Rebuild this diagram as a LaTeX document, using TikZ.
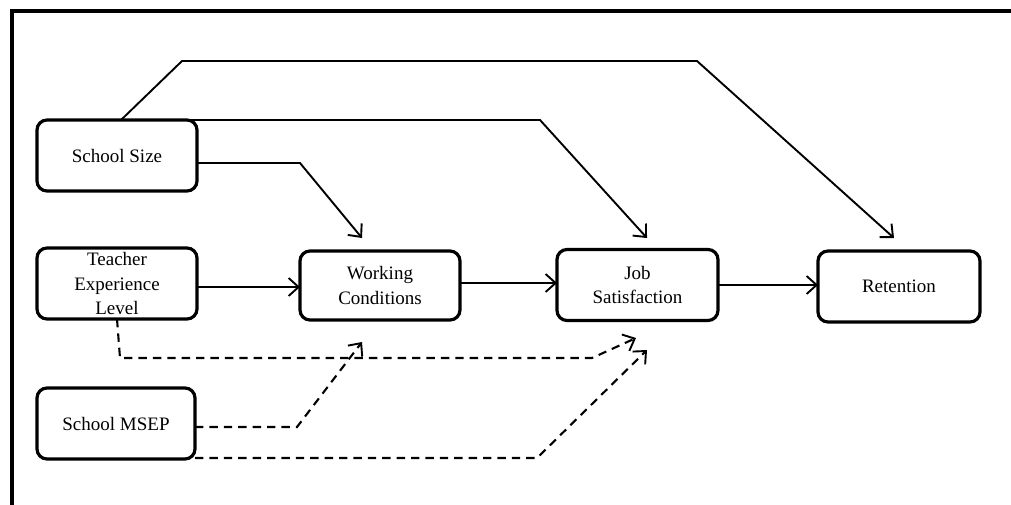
\documentclass[tikz,border=0pt]{standalone}
\usepackage{fontspec}
\setmainfont{Liberation Serif}
\usetikzlibrary{arrows.meta}
\begin{document}
\begin{tikzpicture}[x=0.5pt,y=-0.5pt,
  box/.style={draw, line width=1.6pt, rounded corners=5pt, align=center,
    inner sep=0pt, outer sep=0pt, minimum width=80pt, minimum height=35.5pt,
    font=\fontsize{9.5}{12.4}\selectfont},
  link/.style={line width=0.95pt, -{Straight Barb[length=5pt,width=9pt,line width=0.95pt]}},
  weak/.style={link, line width=1.05pt, dash pattern=on 4.2pt off 3pt}]
\useasboundingbox (0,0) rectangle (1011,504);
\clip (0,0) rectangle (1011,504);
\fill[white] (0,0) rectangle (1011,504);
% outer frame
\draw[line width=1.9pt] (12,11) rectangle (1040,540);

% variables
\node[box] (size)  at (117,155.5) {School Size};
\node[box] (teach) at (117,283.5) {Teacher\\Experience\\Level};
\node[box, minimum width=79pt] (msep) at (116,423.5) {School MSEP};
\node[box, minimum height=34.5pt] (work) at (380,285.5) {Working\\Conditions};
\node[box, minimum width=80.5pt] (job) at (637.5,285) {Job\\Satisfaction};
\node[box, minimum width=81pt] (ret) at (899,286.5) {Retention};

% bend points and arrow ends
\coordinate (s1) at (121,120);
\coordinate (b1) at (182,61);
\coordinate (b2) at (697,61);
\coordinate (e1) at (894,238);
\coordinate (s2) at (188,120);
\coordinate (b3) at (540,120);
\coordinate (e2) at (647,238);
\coordinate (b4) at (300,163);
\coordinate (e3) at (362,238);
\coordinate (t1) at (197,287);
\coordinate (t2) at (460,283);
\coordinate (t3) at (718,285);
\coordinate (d1) at (120,358);
\coordinate (d2) at (592,358);
\coordinate (f1) at (636,338);
\coordinate (d3) at (297,427);
\coordinate (f2) at (362,342);
\coordinate (s3) at (195,458);
\coordinate (d4) at (537,458);
\coordinate (f3) at (647,350);

% direct effects
\draw[link] (s1) -- (b1) -- (b2) -- (e1);
\draw[link] (s2) -- (b3) -- (e2);
\draw[link] (size.east |- b4) -- (b4) -- (e3);
\draw[link] (teach.east |- t1) -- (work.west |- t1);
\draw[link] (work.east |- t2) -- (job.west |- t2);
\draw[link] (job.east |- t3) -- (ret.west |- t3);

% controls
\draw[weak] (teach.south |- 0,319) -- (d1) -- (d2) -- (f1);
\draw[weak] (msep.east |- d3) -- (d3) -- (f2);
\draw[weak] (s3) -- (d4) -- (f3);
\end{tikzpicture}
\end{document}
